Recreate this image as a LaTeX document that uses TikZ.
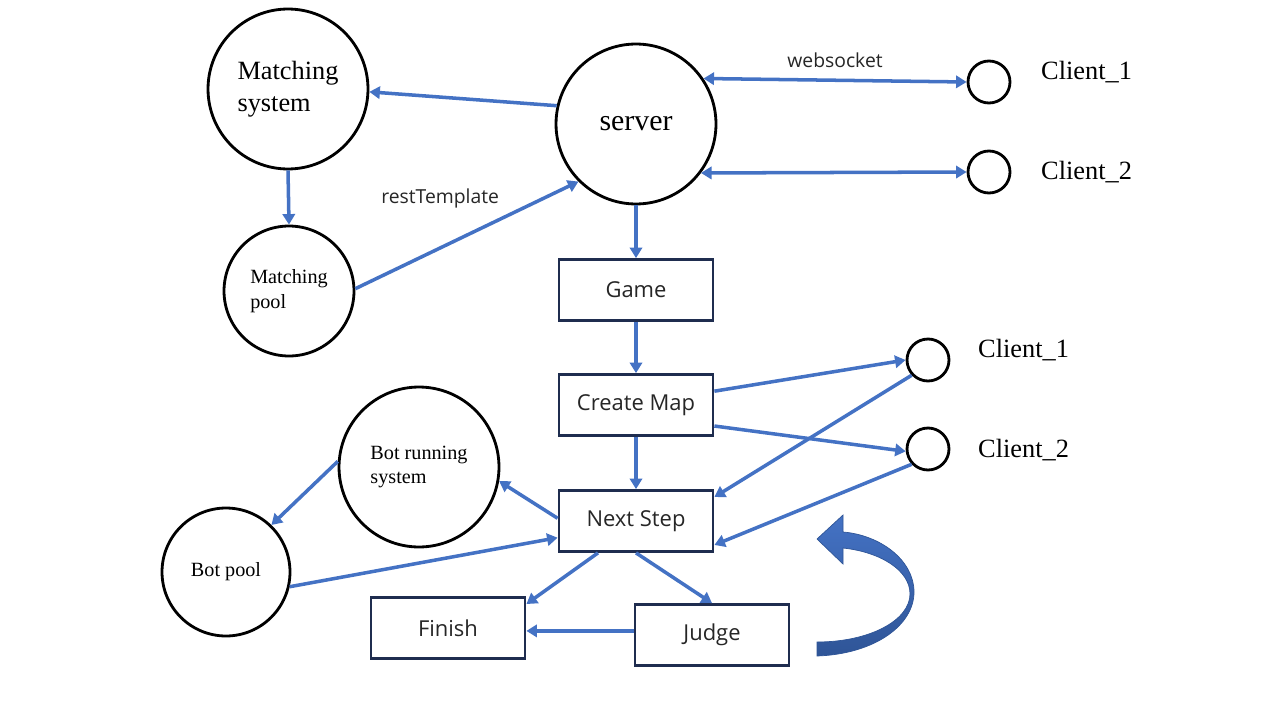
\documentclass[tikz,border=0pt]{standalone}
\usepackage{fontspec}
\setmainfont{Liberation Serif}
\newfontfamily\boxfont{Open Sans}
\usetikzlibrary{arrows.meta}
\definecolor{lineblue}{HTML}{4472C4}
\definecolor{arrowdark}{HTML}{2F5597}
\definecolor{boxnavy}{HTML}{1F2D4F}

\begin{document}
\begin{tikzpicture}[x=0.02cm, y=-0.02cm,
  >={Triangle[length=6pt,width=7pt]},
  bigcirc/.style={circle, draw=black, line width=1.6pt, minimum size=3.2cm, inner sep=0pt, align=left, font=\fontsize{15}{18}\selectfont},
  poolcirc/.style={bigcirc, minimum size=2.6cm, font=\fontsize{11.5}{14}\selectfont},
  client/.style={circle, draw=black, line width=1.6pt, minimum size=0.84cm, inner sep=0pt},
  clientlbl/.style={anchor=west, font=\fontsize{15}{18}\selectfont},
  stage/.style={rectangle, draw=boxnavy, line width=1.6pt, minimum width=3.08cm, minimum height=1.22cm, text=black!85, font=\boxfont\fontsize{12.5}{15}\selectfont},
  edgelbl/.style={text=black!85, font=\boxfont\fontsize{11}{13}\selectfont},
  flow/.style={draw=lineblue, line width=2pt, ->},
  flowboth/.style={flow, <->}]
\useasboundingbox (0,0) rectangle (1280,720);

% matching part
\node[bigcirc] (match) at (288,89) {Matching\\system};
\node[bigcirc, font=\fontsize{17}{20}\selectfont] (server) at (636,124) {server};
\node[poolcirc] (mpool) at (289,291) {Matching\\pool};
\node[client] (c1top) at (989,82) {};
\node[client] (c2top) at (989,172) {};
\node[clientlbl] (c1toplbl) at (1035,72) {Client\_1};
\node[clientlbl] (c2toplbl) at (1035,172) {Client\_2};

% game part
\node[stage] (game) at (636,290) {Game};
\node[stage] (cmap) at (636,405) {Create Map};
\node[stage] (nstep) at (636,521) {Next Step};
\node[stage] (finish) at (448,628) {Finish};
\node[stage] (judge) at (712,635) {Judge};
\node[client] (c1low) at (928,360) {};
\node[client] (c2low) at (928,449) {};
\node[clientlbl] (c1lowlbl) at (972,350) {Client\_1};
\node[clientlbl] (c2lowlbl) at (972,450) {Client\_2};

% bots
\node[bigcirc, font=\fontsize{11.5}{14}\selectfont] (botrun) at (419,467) {Bot running\\system};
\node[poolcirc, minimum size=2.56cm] (botpool) at (226,572) {Bot pool};

\draw[flow] (server.167) -- (match.-2);
\draw[flow] (match.south) -- (mpool.north);
\draw[flow] (mpool.2) -- node[edgelbl, pos=0.38, above=0.65cm] {restTemplate} (server.225);
\draw[flowboth] (server.34) -- node[edgelbl, above=0.1cm] {websocket} (c1top.west);
\draw[flowboth] (server.-37) -- (c2top.west);
\draw[flow] (server.south) -- (game.north);
\draw[flow] (game.south) -- (cmap.north);
\draw[flow] (cmap.south) -- (nstep.north);
\draw[flow] (cmap.10) -- (c1low.west);
\draw[flow] (cmap.-15) -- (c2low.186);
\draw[flow] (c1low.223) -- (nstep.17);
\draw[flow] (c2low.223) -- (nstep.-17);
\draw[flow] (nstep.178) -- (botrun.-10);
\draw[flow] (botrun.176) -- (botpool.46);
\draw[flow] (botpool.-13) -- (nstep.192);
\draw[flow] (nstep.220) -- (finish.17);
\draw[flow] (nstep.south) -- (judge.north);
\draw[flow] (judge.177) -- (judge.177 -| finish.east);

% curved block arrow
\shadedraw[top color=lineblue, bottom color=arrowdark, draw=arrowdark, line width=0.4pt]
  (817,656) .. controls (875,654) and (914,625) .. (914,592)
  .. controls (914,560) and (880,535) .. (843,532)
  -- (843,515) -- (817,539) -- (843,564) -- (843,548)
  .. controls (880,552) and (910,570) .. (910,594)
  .. controls (910,620) and (870,642) .. (817,642) -- cycle;
\end{tikzpicture}
\end{document}
